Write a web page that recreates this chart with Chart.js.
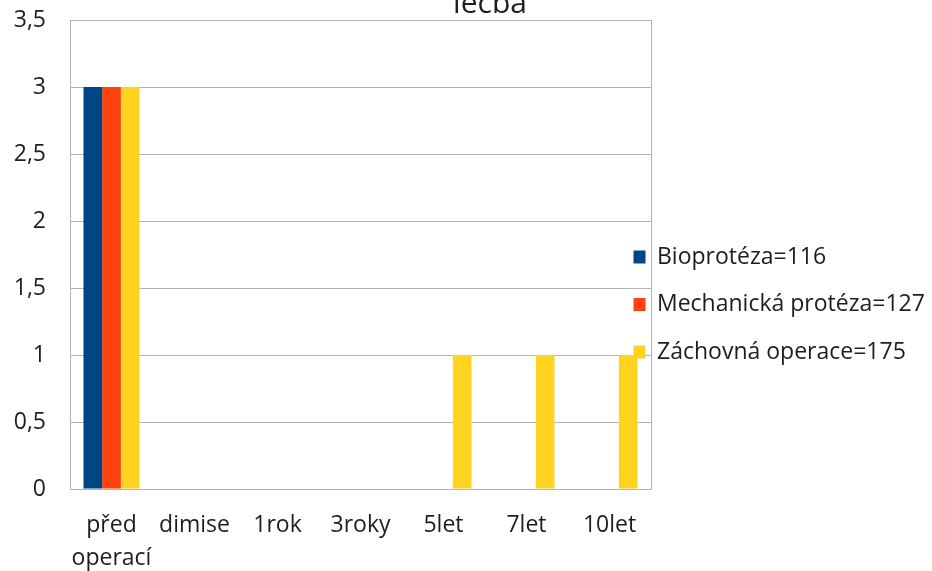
<!DOCTYPE html>
<html>
<head>
<meta charset="utf-8">
<script src="https://cdn.jsdelivr.net/npm/chart.js@4/dist/chart.umd.min.js"></script>
<style>
  html, body { margin: 0; padding: 0; background: #fff; }
  #wrap { width: 932px; height: 571px; }
</style>
</head>
<body>
<div id="wrap"><canvas id="myChart"></canvas></div>
<script>
(function() {
  "use strict";

  // data
  var categories = [["před", "operací"], "dimise", "1rok", "3roky", "5let", "7let", "10let"];
  var seriesNames = ["Bioprotéza=116", "Mechanická protéza=127", "Záchovná operace=175"];
  var seriesColors = ["#004586", "#ff420e", "#ffd320"];
  var bioproteza = [3, 0, 0, 0, 0, 0, 0];
  var mechanicka = [3, 0, 0, 0, 0, 0, 0];
  var zachovna = [3, 0, 0, 0, 1, 1, 1];
  var yTicks = [0, 0.5, 1, 1.5, 2, 2.5, 3, 3.5];
  var chartTitle = "léčba";

  var textColor = "#1e1e1e",
      gridColor = "#b4b4b4",
      fontFamily = "'Open Sans', sans-serif";

  Chart.defaults.font.family = fontFamily;
  Chart.defaults.color = textColor;

  // legend sits partly over the plot in the original, nudge it after layout
  var legendNudge = {
    id: "legendNudge",
    afterLayout: function(chart) {
      var lg = chart.legend;
      lg.left -= 42; lg.width += 42;
      lg.top += 9; lg.bottom += 9;
    }
  };

  // title is cut off at the top edge in the original
  var cutTitle = {
    id: "cutTitle",
    afterDraw: function(chart) {
      var ctx = chart.ctx;
      ctx.save();
      ctx.font = "30px " + fontFamily;
      ctx.fillStyle = textColor;
      ctx.textAlign = "center";
      ctx.textBaseline = "alphabetic";
      ctx.fillText(chartTitle, chart.chartArea.left + 420, 13);
      ctx.restore();
    }
  };

  var ctx = document.getElementById("myChart").getContext("2d");
  new Chart(ctx, {
    type: "bar",
    data: {
      labels: categories,
      datasets: [
        { label: seriesNames[0], data: bioproteza, backgroundColor: seriesColors[0] },
        { label: seriesNames[1], data: mechanicka, backgroundColor: seriesColors[1] },
        { label: seriesNames[2], data: zachovna, backgroundColor: seriesColors[2] }
      ]
    },
    options: {
      responsive: true,
      maintainAspectRatio: false,
      animation: false,
      layout: { padding: { top: 20, left: 10, right: 0, bottom: 0 } },
      datasets: {
        bar: { barPercentage: 1, categoryPercentage: 0.675 }
      },
      scales: {
        x: {
          grid: {
            drawTicks: false,
            color: function(c) { return c.type === "tick" ? "rgba(0,0,0,0)" : gridColor; }
          },
          border: { display: true, color: gridColor },
          ticks: {
            font: { size: 23, lineHeight: 1.43 },
            padding: 20,
            maxRotation: 0,
            autoSkip: false
          },
          afterFit: function(axis) {
            axis.paddingLeft = 0;
            axis.paddingRight = 0;
            axis.height = 82;
          }
        },
        y: {
          min: 0,
          max: 3.5,
          afterBuildTicks: function(axis) {
            axis.ticks = yTicks.map(function(v) { return { value: v }; });
          },
          afterFit: function(axis) {
            axis.width = 60;
            axis.paddingTop = 0;
            axis.paddingBottom = 0;
          },
          grid: { color: gridColor, drawTicks: false },
          border: { display: true, color: gridColor },
          ticks: {
            font: { size: 23 },
            padding: 24,
            callback: function(v) { return String(v).replace(".", ","); }
          }
        }
      },
      plugins: {
        title: { display: false },
        tooltip: { enabled: false },
        legend: {
          position: "right",
          maxWidth: 281,
          labels: {
            boxWidth: 12,
            boxHeight: 13,
            padding: 24.5,
            font: { size: 23 },
            color: textColor
          }
        }
      }
    },
    plugins: [legendNudge, cutTitle]
  });
})();
</script>
</body>
</html>
